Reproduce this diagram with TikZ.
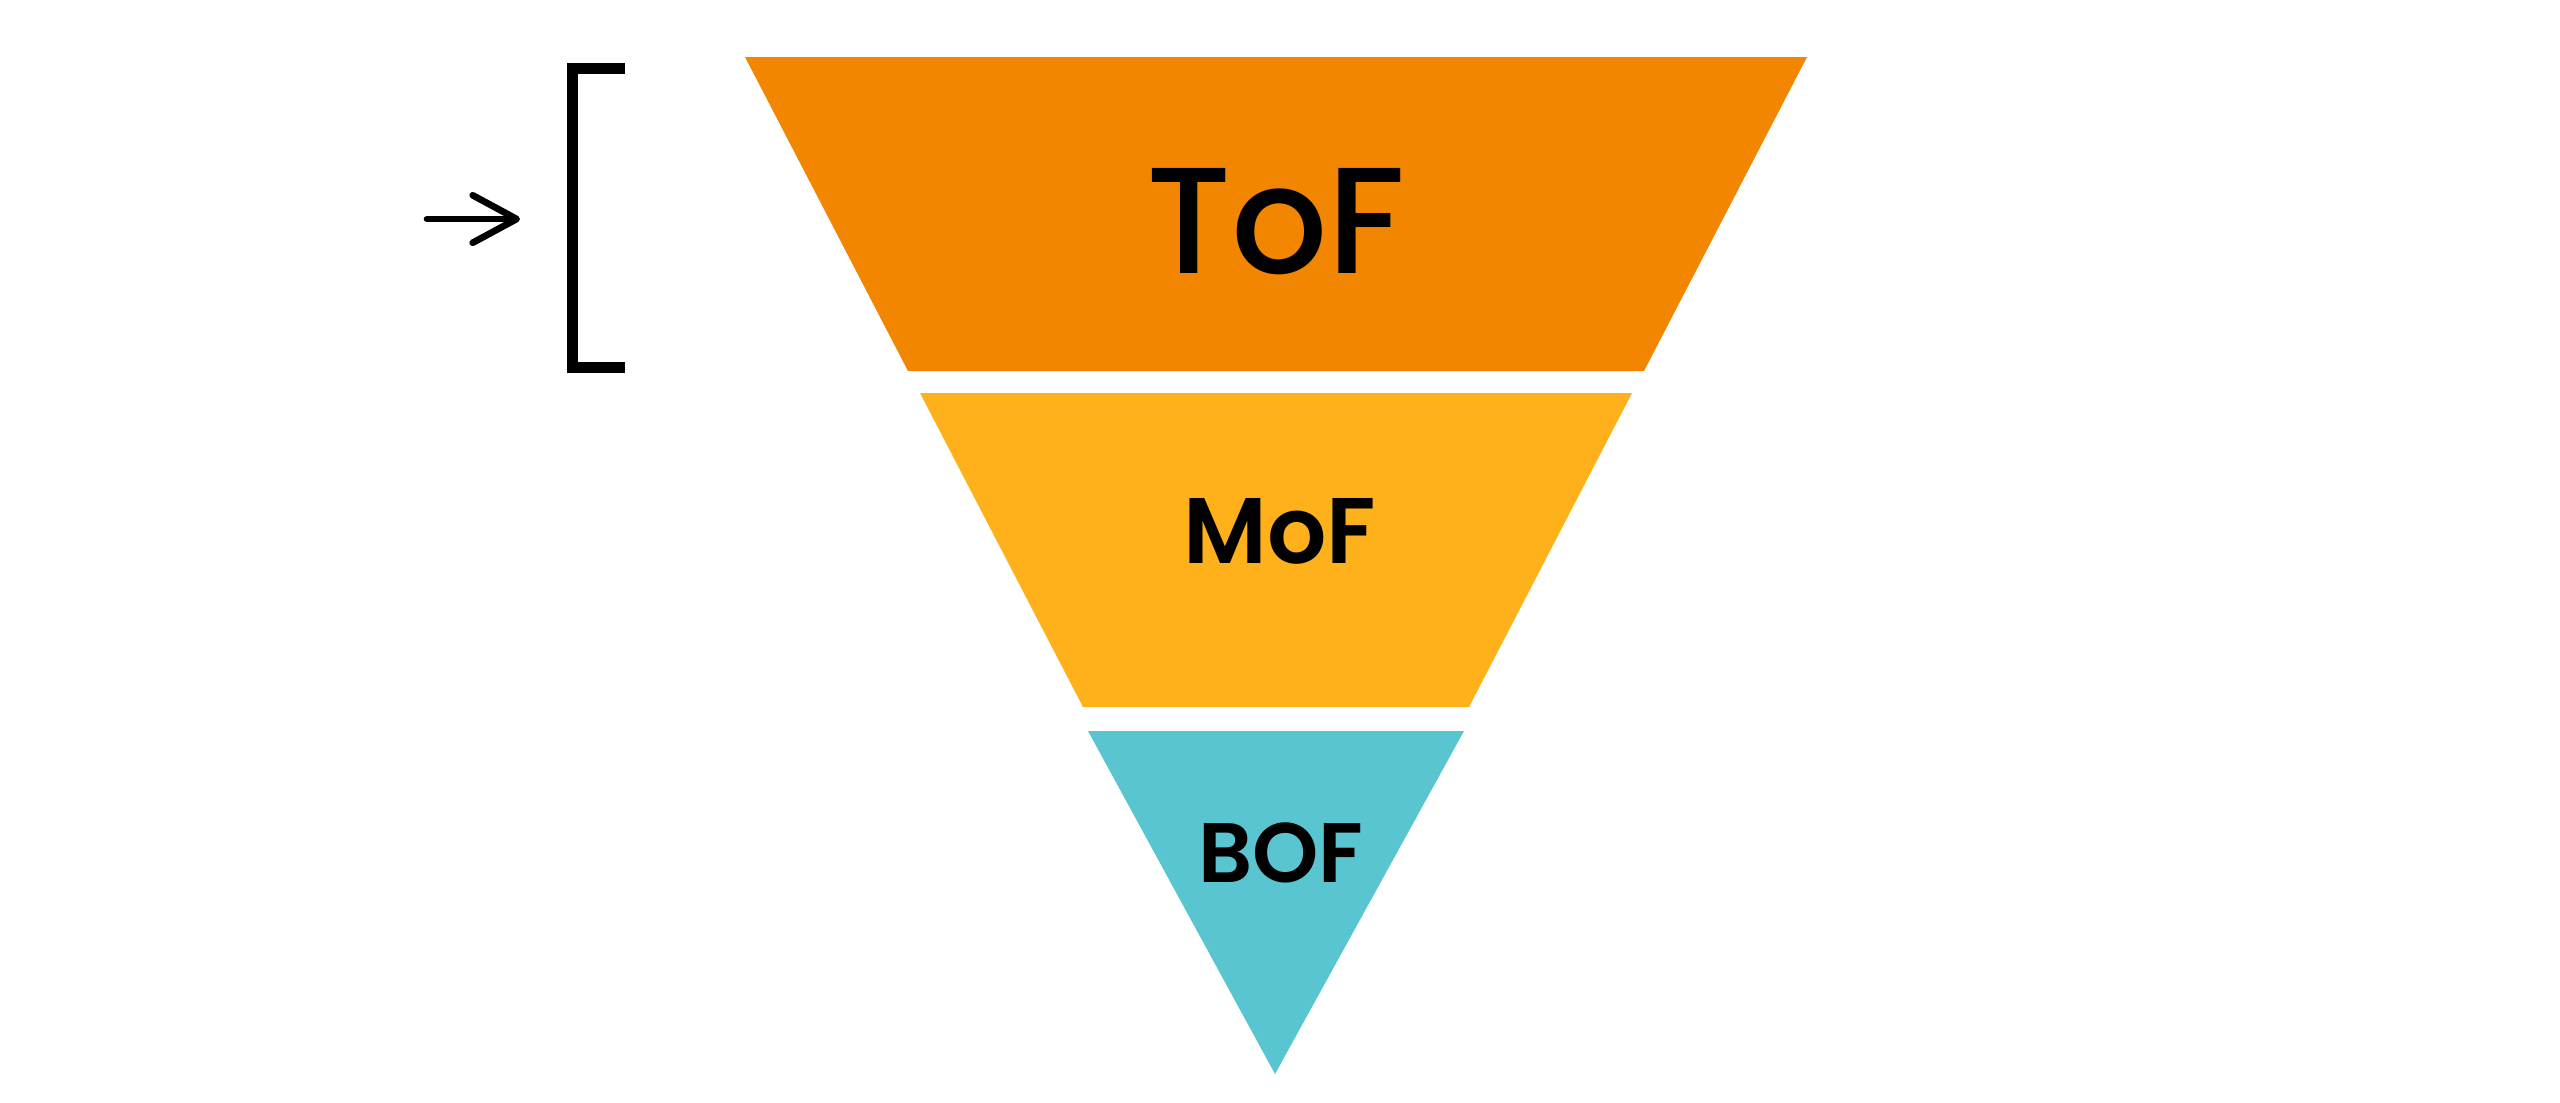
\documentclass[tikz,border=0pt]{standalone}
\usepackage{fontspec}
\setmainfont{Poppins}[UprightFont={* Medium}]
\newfontfamily\semifont{Poppins}[UprightFont={* SemiBold}]
\usetikzlibrary{arrows.meta}
\definecolor{tofcol}{RGB}{242,134,0}
\definecolor{mofcol}{RGB}{254,177,26}
\definecolor{bofcol}{RGB}{88,197,209}

\begin{document}
\begin{tikzpicture}
  [x=0.01cm,y=-0.01cm,every node/.style={inner sep=0pt,anchor=base}]
  \useasboundingbox (0,0) rectangle (2560,1102);
  \fill[tofcol] (745,57) -- (1807,57) -- (1644,371) -- (908,371) -- cycle;
  \fill[mofcol] (920,393) -- (1632,393) -- (1469,707) -- (1083,707) -- cycle;
  \fill[bofcol] (1088,731) -- (1464,731) -- (1275,1074) -- cycle;

  \node[font=\fontsize{43}{43}\selectfont] (tof) at (1276,273) {ToF};
  \node[font=\semifont\fontsize{26.5}{26.5}\selectfont] (mof) at (1280,563) {MoF};
  \node[font=\semifont\fontsize{24}{24}\selectfont] (bof) at (1281,882) {BOF};

  \coordinate (tail) at (427,219);
  \coordinate (tip) at (520,219);
  \draw[-{Straight Barb[round,length=12.5pt,width=13.5pt]},line width=1.9pt,line cap=round] (tail) -- (tip);

  \draw[line width=3.15pt] (625,68.5) -- (572.5,68.5) -- (572.5,367.5) -- (625,367.5);
\end{tikzpicture}
\end{document}
